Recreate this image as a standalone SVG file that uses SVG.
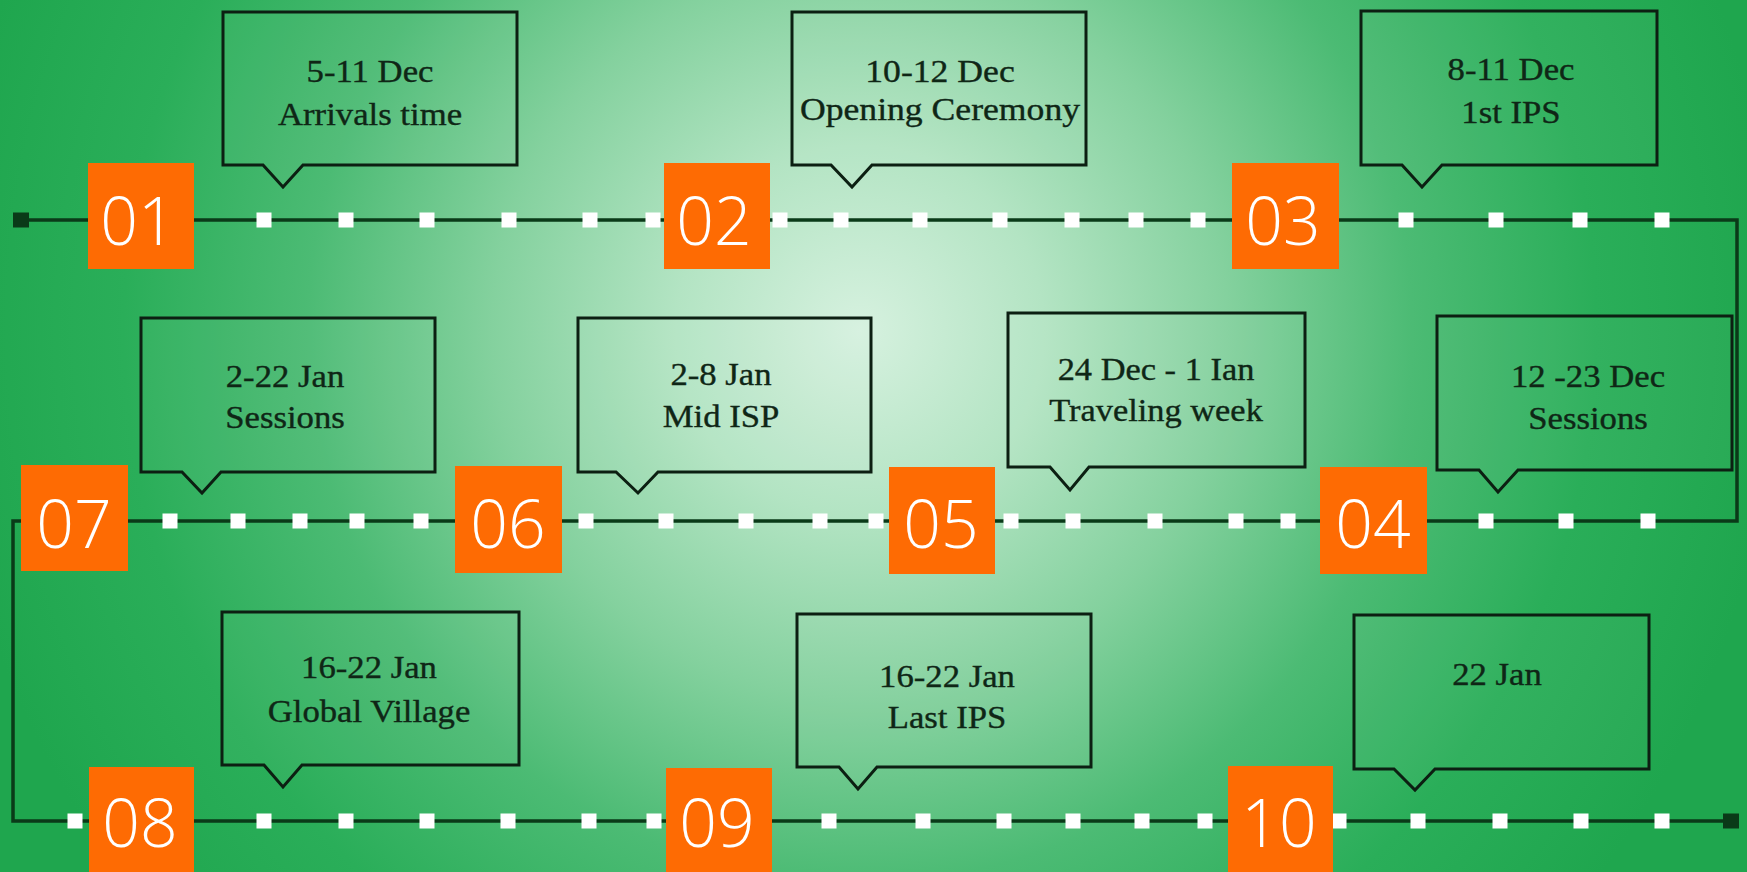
<svg xmlns="http://www.w3.org/2000/svg" width="1747" height="872" viewBox="0 0 1747 872">
  <defs>
    <radialGradient id="bg" gradientUnits="userSpaceOnUse" cx="860" cy="330" r="920">
      <stop offset="0" stop-color="#d6f1df"/>
      <stop offset="0.2" stop-color="#b3e4c3"/>
      <stop offset="0.4" stop-color="#84d19e"/>
      <stop offset="0.6" stop-color="#4cbb74"/>
      <stop offset="0.8" stop-color="#2aae59"/>
      <stop offset="1" stop-color="#1fa64e"/>
    </radialGradient>
    <rect id="tick" x="-7.5" y="-7.5" width="15" height="15" fill="#ffffff"/>
  </defs>
  <style>
    .callout { fill: #ffffff; fill-opacity: 0.04; stroke: #0c1f12; stroke-width: 3; stroke-linejoin: miter; }
    .ctext { font-family: "Liberation Serif", "Times New Roman", serif; font-size: 31px; fill: #0f2616; stroke: #0f2616; stroke-width: 0.35; text-anchor: middle; }
    .badge { fill: #fe6b03; }
    .num { font-family: "Open Sans", "Noto Sans", sans-serif; font-size: 66px; font-weight: 300; fill: #ffffff; text-anchor: middle; }
    .track { fill: none; stroke: #0a3a18; stroke-width: 3.5; }
    .end { fill: #0a3a18; }
  </style>

  <rect x="0" y="0" width="1747" height="872" fill="url(#bg)"/>

  <!-- connectors -->
  <g id="connectors">
    <path class="track" d="M 21 220 H 1737 V 521 H 13 V 821 H 1731"/>
    <rect class="end" x="13" y="212.5" width="16" height="15"/>
    <rect class="end" x="1723" y="813.5" width="16" height="15"/>
    <g id="ticks-row1">
      <use href="#tick" x="264" y="220"/><use href="#tick" x="346" y="220"/><use href="#tick" x="427" y="220"/>
      <use href="#tick" x="509" y="220"/><use href="#tick" x="590" y="220"/><use href="#tick" x="653" y="220"/>
      <use href="#tick" x="780" y="220"/><use href="#tick" x="841" y="220"/><use href="#tick" x="920" y="220"/>
      <use href="#tick" x="1000" y="220"/><use href="#tick" x="1072" y="220"/><use href="#tick" x="1136" y="220"/>
      <use href="#tick" x="1198" y="220"/><use href="#tick" x="1406" y="220"/><use href="#tick" x="1496" y="220"/>
      <use href="#tick" x="1580" y="220"/><use href="#tick" x="1662" y="220"/>
    </g>
    <g id="ticks-row2">
      <use href="#tick" x="170" y="521"/><use href="#tick" x="238" y="521"/><use href="#tick" x="300" y="521"/>
      <use href="#tick" x="357" y="521"/><use href="#tick" x="421" y="521"/><use href="#tick" x="586" y="521"/>
      <use href="#tick" x="666" y="521"/><use href="#tick" x="746" y="521"/><use href="#tick" x="820" y="521"/>
      <use href="#tick" x="876" y="521"/><use href="#tick" x="1011" y="521"/><use href="#tick" x="1073" y="521"/>
      <use href="#tick" x="1155" y="521"/><use href="#tick" x="1236" y="521"/><use href="#tick" x="1288" y="521"/>
      <use href="#tick" x="1486" y="521"/><use href="#tick" x="1566" y="521"/><use href="#tick" x="1648" y="521"/>
    </g>
    <g id="ticks-row3">
      <use href="#tick" x="75" y="821"/><use href="#tick" x="264" y="821"/><use href="#tick" x="346" y="821"/>
      <use href="#tick" x="427" y="821"/><use href="#tick" x="508" y="821"/><use href="#tick" x="589" y="821"/>
      <use href="#tick" x="654" y="821"/><use href="#tick" x="829" y="821"/><use href="#tick" x="923" y="821"/>
      <use href="#tick" x="1004" y="821"/><use href="#tick" x="1073" y="821"/><use href="#tick" x="1142" y="821"/>
      <use href="#tick" x="1205" y="821"/><use href="#tick" x="1339" y="821"/><use href="#tick" x="1418" y="821"/>
      <use href="#tick" x="1500" y="821"/><use href="#tick" x="1581" y="821"/><use href="#tick" x="1662" y="821"/>
    </g>
  </g>

  <!-- numbered badges -->
  <g id="node-01"><rect class="badge" x="88" y="163" width="106" height="106"/><text class="num" x="138" y="245">01</text></g>
  <g id="node-02"><rect class="badge" x="664" y="163" width="106" height="106"/><text class="num" x="714" y="245">02</text></g>
  <g id="node-03"><rect class="badge" x="1232" y="163" width="107" height="106"/><text class="num" x="1283" y="245">03</text></g>
  <g id="node-04"><rect class="badge" x="1320" y="467" width="107" height="107"/><text class="num" x="1373" y="548">04</text></g>
  <g id="node-05"><rect class="badge" x="889" y="467" width="106" height="107"/><text class="num" x="941" y="548">05</text></g>
  <g id="node-06"><rect class="badge" x="455" y="466" width="107" height="107"/><text class="num" x="508" y="548">06</text></g>
  <g id="node-07"><rect class="badge" x="21" y="465" width="107" height="106"/><text class="num" x="74" y="548">07</text></g>
  <g id="node-08"><rect class="badge" x="89" y="767" width="105" height="110"/><text class="num" x="140" y="847">08</text></g>
  <g id="node-09"><rect class="badge" x="666" y="768" width="106" height="110"/><text class="num" x="717" y="847">09</text></g>
  <g id="node-10"><rect class="badge" x="1228" y="766" width="105" height="110"/><text class="num" x="1279" y="847">10</text></g>

  <!-- callouts -->
  <g id="callout-01">
    <path class="callout" d="M 223 12 H 517 V 165 H 303 L 283 187 L 263 165 H 223 Z"/>
    <g transform="translate(370 0) scale(1.12 1)"><text class="ctext" x="0" y="82">5-11 Dec</text><text class="ctext" x="0" y="125">Arrivals time</text></g>
  </g>
  <g id="callout-02">
    <path class="callout" d="M 792 12 H 1086 V 165 H 872 L 852 187 L 831 165 H 792 Z"/>
    <g transform="translate(940 0) scale(1.15 1)"><text class="ctext" x="0" y="82">10-12 Dec</text><text class="ctext" x="0" y="120">Opening Ceremony</text></g>
  </g>
  <g id="callout-03">
    <path class="callout" d="M 1361 11 H 1657 V 165 H 1442 L 1422 187 L 1402 165 H 1361 Z"/>
    <g transform="translate(1511 0) scale(1.12 1)"><text class="ctext" x="0" y="80">8-11 Dec</text><text class="ctext" x="0" y="123">1st IPS</text></g>
  </g>
  <g id="callout-04">
    <path class="callout" d="M 1437 316 H 1732 V 470 H 1518 L 1498 492 L 1479 470 H 1437 Z"/>
    <g transform="translate(1588 0) scale(1.12 1)"><text class="ctext" x="0" y="387">12 -23 Dec</text><text class="ctext" x="0" y="429">Sessions</text></g>
  </g>
  <g id="callout-05">
    <path class="callout" d="M 1008 313 H 1305 V 467 H 1089 L 1070 490 L 1050 467 H 1008 Z"/>
    <g transform="translate(1156 0) scale(1.11 1)"><text class="ctext" x="0" y="380">24 Dec - 1 Ian</text><text class="ctext" x="0" y="421">Traveling week</text></g>
  </g>
  <g id="callout-06">
    <path class="callout" d="M 578 318 H 871 V 472 H 658 L 638 493 L 616 472 H 578 Z"/>
    <g transform="translate(721 0) scale(1.12 1)"><text class="ctext" x="0" y="385">2-8 Jan</text><text class="ctext" x="0" y="427">Mid ISP</text></g>
  </g>
  <g id="callout-07">
    <path class="callout" d="M 141 318 H 435 V 472 H 221 L 202 493 L 182 472 H 141 Z"/>
    <g transform="translate(285 0) scale(1.12 1)"><text class="ctext" x="0" y="387">2-22 Jan</text><text class="ctext" x="0" y="428">Sessions</text></g>
  </g>
  <g id="callout-08">
    <path class="callout" d="M 222 612 H 519 V 765 H 302 L 283 787 L 264 765 H 222 Z"/>
    <g transform="translate(369 0) scale(1.12 1)"><text class="ctext" x="0" y="678">16-22 Jan</text><text class="ctext" x="0" y="722">Global Village</text></g>
  </g>
  <g id="callout-09">
    <path class="callout" d="M 797 614 H 1091 V 767 H 877 L 858 789 L 839 767 H 797 Z"/>
    <g transform="translate(947 0) scale(1.12 1)"><text class="ctext" x="0" y="687">16-22 Jan</text><text class="ctext" x="0" y="728">Last IPS</text></g>
  </g>
  <g id="callout-10">
    <path class="callout" d="M 1354 615 H 1649 V 769 H 1435 L 1415 790 L 1394 769 H 1354 Z"/>
    <g transform="translate(1497 0) scale(1.12 1)"><text class="ctext" x="0" y="685">22 Jan</text></g>
  </g>
</svg>
